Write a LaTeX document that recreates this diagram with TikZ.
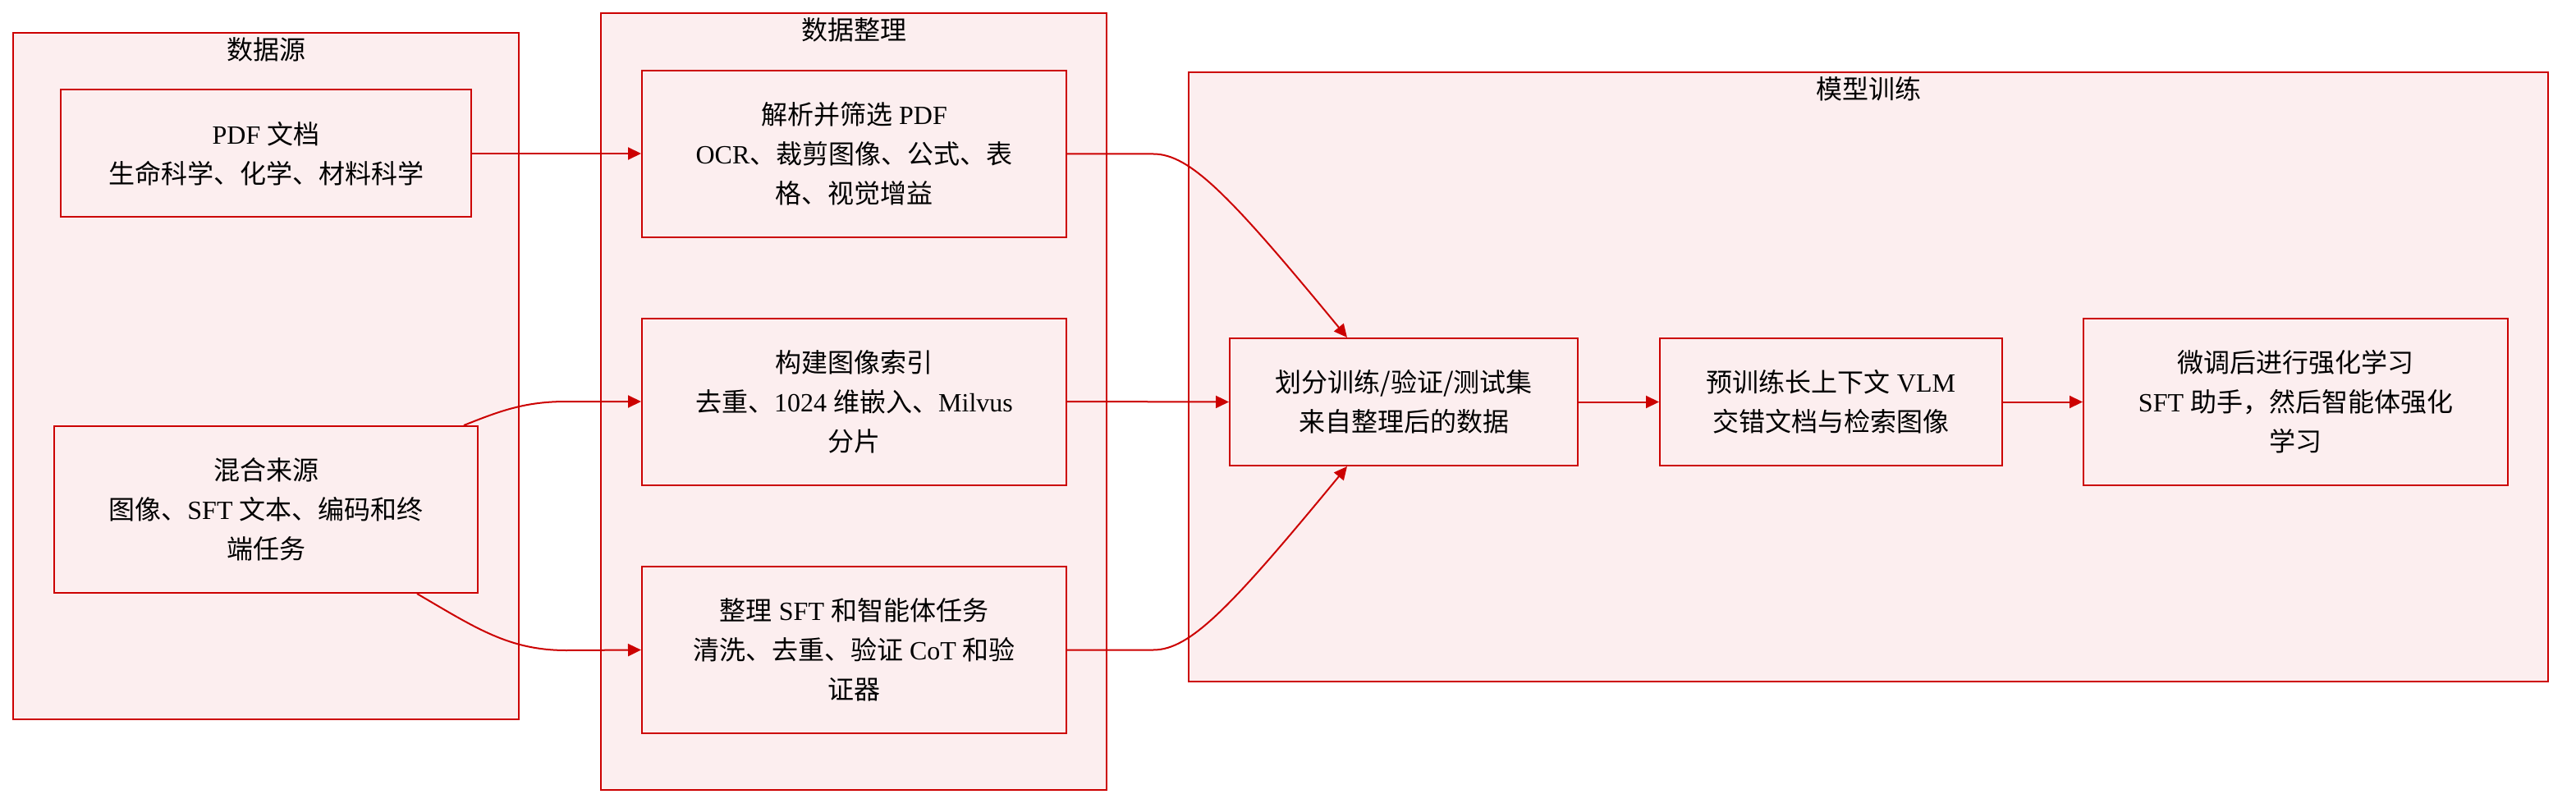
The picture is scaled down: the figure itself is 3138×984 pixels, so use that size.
\documentclass[tikz,border=0pt]{standalone}
\usepackage{fontspec}
\setmainfont{Liberation Serif}
\newfontfamily\cjk{Noto Sans CJK SC}
\newcommand\zh[1]{{\cjk #1}}
\usetikzlibrary{arrows.meta}
\definecolor{edgered}{RGB}{204,0,0}
\definecolor{boxfill}{RGB}{252,238,239}
\begin{document}
\begin{tikzpicture}[x=0.5pt,y=-0.5pt,
  cluster/.style={draw=edgered,fill=boxfill,line width=1pt,inner sep=0pt},
  box/.style={draw=edgered,fill=boxfill,line width=1pt,align=center,inner sep=0pt,
    font=\fontsize{16pt}{24pt}\selectfont},
  ctitle/.style={font=\fontsize{16pt}{24pt}\selectfont\cjk,inner sep=0pt},
  link/.style={draw=edgered,line width=1pt,-{Triangle[length=8pt,width=7.5pt]}}]
\useasboundingbox (0,0) rectangle (3138,984);
% clusters
\node[cluster,minimum width=308pt,minimum height=418pt] (src) at (324,458) {};
\node[cluster,minimum width=308pt,minimum height=473pt] (cur) at (1040,489) {};
\node[cluster,minimum width=828pt,minimum height=371pt] (trn) at (2276,459) {};
\node[ctitle] (srct) at (324,60) {数据源};
\node[ctitle] (curt) at (1040,36) {数据整理};
\node[ctitle] (trnt) at (2276,108) {模型训练};
% nodes
\node[box,minimum width=250pt,minimum height=77.5pt] (pdf) at (324,187)
  {PDF \zh{文档}\\\zh{生命科学、化学、材料科学}};
\node[box,minimum width=258pt,minimum height=101.5pt] (mix) at (324,620.5)
  {\zh{混合来源}\\\zh{图像、}SFT \zh{文本、编码和终}\\\zh{端任务}};
\node[box,minimum width=258.5pt,minimum height=101.5pt] (parse) at (1040.5,187.5)
  {\zh{解析并筛选} PDF\\OCR\zh{、裁剪图像、公式、表}\\\zh{格、视觉增益}};
\node[box,minimum width=258.5pt,minimum height=101.5pt] (index) at (1040.5,489)
  {\zh{构建图像索引}\\\zh{去重、}1024 \zh{维嵌入、}Milvus\\\zh{分片}};
\node[box,minimum width=258.5pt,minimum height=101.5pt] (sft) at (1040.5,791.5)
  {\zh{整理} SFT \zh{和智能体任务}\\\zh{清洗、去重、验证} CoT \zh{和验}\\\zh{证器}};
\node[box,minimum width=212pt,minimum height=77.5pt] (split) at (1710,489.5)
  {\zh{划分训练/验证/测试集}\\\zh{来自整理后的数据}};
\node[box,minimum width=208.5pt,minimum height=77.5pt] (pre) at (2230.5,489.5)
  {\zh{预训练长上下文} VLM\\\zh{交错文档与检索图像}};
\node[box,minimum width=258.5pt,minimum height=101.5pt] (ft) at (2796.5,489.5)
  {\zh{微调后进行强化学习}\\SFT \zh{助手，然后智能体强化}\\\zh{学习}};
% connectors
\draw[link] (pdf.east) -- (parse.west |- pdf.east);
\draw[link] ([xshift=-9pt]mix.north east) .. controls (610,500) and (640,489) .. (690,489) -- (index.west);
\draw[link] ([xshift=-37.5pt]mix.south east) .. controls (580,765) and (620,792) .. (690,792) -- (sft.west);
\draw[link] (parse.east) -- (1405,187.5) .. controls (1450,187.5) and (1500,240) .. ([xshift=72pt]split.north west);
\draw[link] (index.east) -- (split.west);
\draw[link] (sft.east) -- (1405,791.5) .. controls (1450,791.5) and (1500,739) .. ([xshift=72pt]split.south west);
\draw[link] (split.east) -- (pre.west);
\draw[link] (pre.east) -- (ft.west);
\end{tikzpicture}
\end{document}
